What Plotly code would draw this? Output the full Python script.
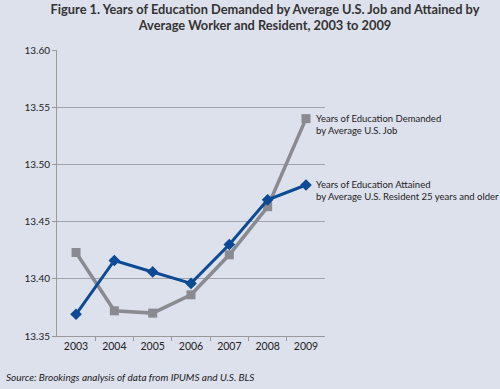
import plotly.graph_objects as go

years = ["2003", "2004", "2005", "2006", "2007", "2008", "2009"]
demanded = [13.423, 13.372, 13.370, 13.386, 13.421, 13.463, 13.540]
attained = [13.369, 13.416, 13.406, 13.396, 13.430, 13.469, 13.482]
y_ticks = [13.35, 13.40, 13.45, 13.50, 13.55, 13.60]
y_tick_text = ["13.35", "13.40", "13.45", "13.50", "13.55", "13.60"]

bg = "#dde1ec"
gray = "#8a8b90"
blue = "#0c4a96"
fnt = "Lato"

fig = go.Figure()
fig.add_trace(go.Scatter(x=years, y=demanded, mode="lines+markers",
                         line=dict(color=gray, width=3.5),
                         marker=dict(symbol="square", size=9, color=gray),
                         name="Years of Education Demanded by Average U.S. Job"))
fig.add_trace(go.Scatter(x=years, y=attained, mode="lines+markers",
                         line=dict(color=blue, width=3),
                         marker=dict(symbol="diamond", size=9, color=blue),
                         name="Years of Education Attained by Average U.S. Resident 25 years and older"))

fig.add_annotation(x=1.0, xref="paper", y=demanded[-1], yref="y",
                   text="Years of Education Demanded<br>by Average U.S. Job",
                   showarrow=False, xanchor="left", yanchor="middle", xshift=-11, yshift=-6,
                   align="left", font=dict(size=9.5, color="#222", family=fnt))
fig.add_annotation(x=1.0, xref="paper", y=attained[-1], yref="y",
                   text="Years of Education Attained<br>by Average U.S. Resident 25 years and older",
                   showarrow=False, xanchor="left", yanchor="middle", xshift=-11, yshift=-6,
                   align="left", font=dict(size=9.5, color="#222", family=fnt))
fig.add_annotation(x=0, xref="paper", y=0, yref="paper",
                   text="<i>Source: Brookings analysis of data from IPUMS and U.S. BLS</i>",
                   showarrow=False, xanchor="left", yanchor="middle", xshift=-53, yshift=-41,
                   font=dict(size=10, color="#222", family=fnt))

fig.update_layout(
    width=500, height=389,
    paper_bgcolor=bg, plot_bgcolor=bg,
    margin=dict(l=57, r=175, t=50, b=53),
    showlegend=False,
    font=dict(family=fnt, color="#222"),
    title=dict(text="<b>Figure 1. Years of Education Demanded by Average U.S. Job and Attained by<br>Average Worker and Resident, 2003 to 2009</b>",
               x=0.53, xanchor="center", y=0.965, yanchor="top",
               font=dict(size=12.8, color="#333", family=fnt)),
    xaxis=dict(type="category", tickson="boundaries", ticks="outside", ticklen=4,
               tickcolor="#999", showline=True, linecolor="#999", linewidth=1,
               showgrid=False, tickfont=dict(size=10.5, color="#222")),
    yaxis=dict(range=[13.35, 13.60], tickvals=y_ticks, ticktext=y_tick_text,
               ticks="outside", ticklen=4, tickcolor="#999", showline=True,
               linecolor="#999", linewidth=1, gridcolor="#a0a3aa", gridwidth=1,
               zeroline=False, tickfont=dict(size=10, color="#222")),
)
fig.write_html("out.html", config={"displayModeBar": False})

with open("out.html", "r", encoding="utf-8") as f:
    html = f.read()
html = html.replace("<head>", "<head><style>html,body{margin:0;padding:0;overflow:hidden;}</style>", 1)
with open("out.html", "w", encoding="utf-8") as f:
    f.write(html)
